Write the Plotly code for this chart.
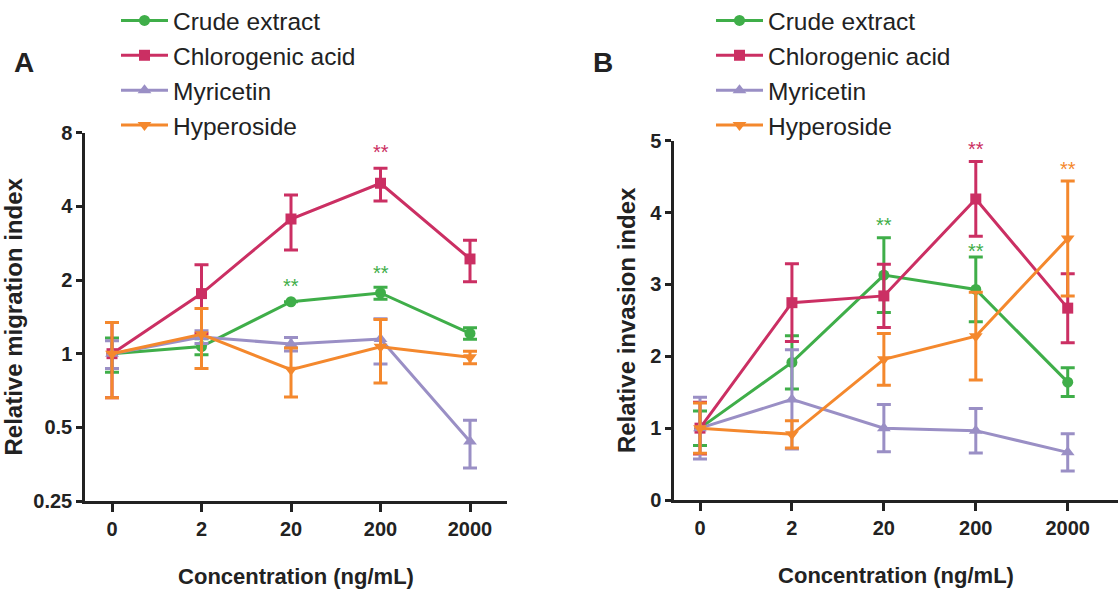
import math
import plotly.graph_objects as go

conc = ["0", "2", "20", "200", "2000"]
series_names = ["Crude extract", "Chlorogenic acid", "Myricetin", "Hyperoside"]

# Panel A: relative migration index (mean, sd)
crude_mig = [1.00, 1.07, 1.63, 1.77, 1.21]
crude_mig_sd = [0.16, 0.08, 0.0, 0.10, 0.065]
chloro_mig = [1.00, 1.76, 3.55, 4.97, 2.44]
chloro_mig_sd = [0.34, 0.55, 0.90, 0.76, 0.47]
myr_mig = [1.00, 1.17, 1.095, 1.148, 0.438]
myr_mig_sd = [0.13, 0.07, 0.07, 0.24, 0.097]
hyp_mig = [1.00, 1.20, 0.86, 1.068, 0.966]
hyp_mig_sd = [0.34, 0.33, 0.195, 0.31, 0.057]

# Panel B: relative invasion index (mean, sd)
crude_inv = [1.00, 1.915, 3.13, 2.93, 1.64]
crude_inv_sd = [0.24, 0.37, 0.52, 0.45, 0.20]
chloro_inv = [1.00, 2.746, 2.84, 4.19, 2.67]
chloro_inv_sd = [0.36, 0.54, 0.44, 0.52, 0.48]
myr_inv = [1.00, 1.40, 1.00, 0.965, 0.663]
myr_inv_sd = [0.43, 0.69, 0.33, 0.31, 0.26]
hyp_inv = [1.00, 0.914, 1.957, 2.28, 3.64]
hyp_inv_sd = [0.35, 0.19, 0.36, 0.61, 0.80]

# significance marks: (series index, concentration, y position)
stars_A = [(1, "200", 7.0), (0, "20", 1.99), (0, "200", 2.24)]
stars_B = [(1, "200", 4.96), (0, "20", 3.89), (0, "200", 3.53), (3, "2000", 4.67)]

yticks_A = [0.25, 0.5, 1, 2, 4, 8]
yticklabels_A = ["0.25", "0.5", "1", "2", "4", "8"]
yticks_B = [0, 1, 2, 3, 4, 5]

colors = ["#3fae49", "#cb2f63", "#9a8fc5", "#f4882d"]
symbols = ["circle", "square", "triangle-up", "triangle-down"]
msizes = [11, 11, 12, 12]

W, H = 1118, 595
FONT = "Liberation Sans, Arial, sans-serif"

fig = go.Figure()

data_A = [(crude_mig, crude_mig_sd), (chloro_mig, chloro_mig_sd), (myr_mig, myr_mig_sd), (hyp_mig, hyp_mig_sd)]
data_B = [(crude_inv, crude_inv_sd), (chloro_inv, chloro_inv_sd), (myr_inv, myr_inv_sd), (hyp_inv, hyp_inv_sd)]

for panel, data, xa, ya, leg in [("A", data_A, "x", "y", "legend"), ("B", data_B, "x2", "y2", "legend2")]:
    for i, (vals, sd) in enumerate(data):
        fig.add_trace(go.Scatter(
            x=conc, y=vals, mode="lines+markers", name=series_names[i],
            xaxis=xa, yaxis=ya, legend=leg, legendgroup=panel + str(i),
            line=dict(color=colors[i], width=3),
            marker=dict(color=colors[i], symbol=symbols[i], size=msizes[i]),
            error_y=dict(type="data", array=sd, visible=True, color=colors[i], thickness=3, width=7),
        ))

for stars, xa, ya, logy in [(stars_A, "x", "y", True), (stars_B, "x2", "y2", False)]:
    for si, cx, yv in stars:
        yy = math.log10(yv) if logy else yv
        fig.add_annotation(x=conc.index(cx), y=yy, xref=xa, yref=ya, text="**", showarrow=False,
                           font=dict(family=FONT, size=20, color=colors[si]), yshift=-5)

def px_x(p):
    return p / W

def px_y(p):
    return 1 - p / H

axis_common = dict(showline=True, linecolor="#222", linewidth=2.5, ticks="outside", tickcolor="#222",
                   tickwidth=2.5, showgrid=False, zeroline=False, automargin=False,
                   tickfont=dict(family=FONT, size=20, color="#222", weight="bold"))

xtitle_font = dict(family=FONT, size=22, color="#222", weight="bold")
ytitle_font = dict(family=FONT, size=24, color="#222", weight="bold")
legend_font = dict(family=FONT, size=24.5, color="#222")

a_x0, a_x1 = 85, 507
b_x0, b_x1 = 674, 1118
fig.update_layout(
    template="none",
    xaxis=dict(domain=[px_x(a_x0), px_x(a_x1)], anchor="y", type="category",
               range=[(a_x0 - 112) / 89.5, (a_x1 - 112) / 89.5], ticklen=8,
               title=dict(text="Concentration (ng/mL)", standoff=30, font=xtitle_font),
               **axis_common),
    yaxis=dict(domain=[px_y(501), px_y(132.7)], anchor="x", type="log",
               range=[-0.60206, 0.90309], tickvals=yticks_A, ticktext=yticklabels_A, ticklen=6,
               title=dict(text="Relative migration index", standoff=8, font=ytitle_font),
               **axis_common),
    xaxis2=dict(domain=[px_x(b_x0), 1.0], anchor="y2", type="category",
                range=[(b_x0 - 700) / 91.93, (b_x1 - 700) / 91.93], ticklen=8,
                title=dict(text="Concentration (ng/mL)", standoff=30, font=xtitle_font),
                **axis_common),
    yaxis2=dict(domain=[px_y(500), px_y(140.7)], anchor="x2",
                range=[0, 5], tickvals=yticks_B, ticklen=6,
                title=dict(text="Relative invasion index", standoff=8, font=ytitle_font),
                **axis_common),
    legend=dict(x=px_x(116), y=1 + 2 / H, xanchor="left", yanchor="top", bgcolor="rgba(0,0,0,0)",
                font=legend_font, tracegroupgap=0, itemwidth=47),
    legend2=dict(x=px_x(711), y=1 + 2 / H, xanchor="left", yanchor="top", bgcolor="rgba(0,0,0,0)",
                 font=legend_font, tracegroupgap=0, itemwidth=47),
    width=W, height=H, margin=dict(l=0, r=0, t=0, b=0, autoexpand=False),
    plot_bgcolor="white", paper_bgcolor="white",
)

fig.add_annotation(x=px_x(12), y=px_y(63), xref="paper", yref="paper", text="A", showarrow=False,
                   xanchor="left", yanchor="middle",
                   font=dict(family=FONT, size=28, color="#222", weight="bold"))
fig.add_annotation(x=px_x(591), y=px_y(63), xref="paper", yref="paper", text="B", showarrow=False,
                   xanchor="left", yanchor="middle",
                   font=dict(family=FONT, size=28, color="#222", weight="bold"))

fig.write_html("out.html")
